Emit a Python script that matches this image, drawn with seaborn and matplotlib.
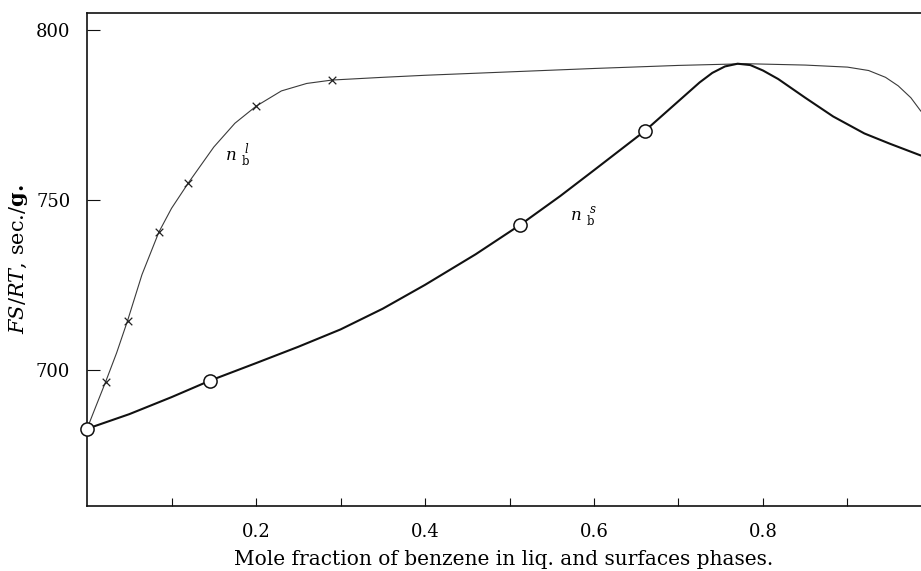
import numpy as np
import pandas as pd
import matplotlib
matplotlib.use("Agg")
import matplotlib.pyplot as plt
import seaborn as sns

# ---- data ----
# n_b^l curve (thin line, crosses)
liq_curve_x = [0.0, 0.01, 0.022, 0.035, 0.048, 0.065, 0.085, 0.10, 0.12, 0.15, 0.175, 0.20, 0.23, 0.26, 0.29,
               0.35, 0.40, 0.50, 0.60, 0.70, 0.78, 0.85, 0.90, 0.925, 0.945, 0.96, 0.975, 0.987]
liq_curve_y = [682.7, 689.0, 696.5, 705.0, 714.5, 728.0, 740.5, 747.5, 755.0, 765.5, 772.5, 777.5, 782.0, 784.2, 785.2,
               786.0, 786.6, 787.6, 788.6, 789.5, 790.0, 789.6, 789.0, 788.0, 786.0, 783.5, 780.0, 776.0]
liq_marker_x = [0.022, 0.048, 0.085, 0.12, 0.20, 0.29]
liq_marker_y = [696.5, 714.5, 740.5, 755.0, 777.5, 785.2]

# n_b^s curve (thick line, open circles)
surf_curve_x = [0.0, 0.05, 0.10, 0.145, 0.20, 0.25, 0.30, 0.35, 0.40, 0.46, 0.513, 0.56, 0.60, 0.66, 0.70, 0.725,
                0.74, 0.755, 0.77, 0.785, 0.80, 0.818, 0.85, 0.883, 0.92, 0.95, 0.987]
surf_curve_y = [682.7, 687.0, 692.0, 696.8, 702.0, 706.8, 711.9, 718.0, 725.0, 734.0, 742.7, 751.1, 758.7, 770.2,
                779.0, 784.5, 787.3, 789.2, 790.0, 789.6, 788.0, 785.5, 780.0, 774.5, 769.5, 766.5, 763.0]
surf_marker_x = [0.0, 0.145, 0.513, 0.66]
surf_marker_y = [682.7, 696.8, 742.7, 770.2]

y_ticks = [700, 750, 800]
x_major = [0.2, 0.4, 0.6, 0.8]
x_minor = [0.1, 0.3, 0.5, 0.7, 0.9]

sns.set_theme(style="ticks")
plt.rcParams["font.family"] = ["DejaVu Serif", "Liberation Serif"]
plt.rcParams["mathtext.fontset"] = "dejavuserif"
plt.rcParams["text.color"] = "black"
plt.rcParams["axes.labelcolor"] = "black"

fig = plt.figure(figsize=(9.21, 5.71), dpi=100)
ax = fig.add_axes([0.0945, 0.1138, 1.0 - 0.0945, 0.9778 - 0.1138])

liq_df = pd.DataFrame({"x": liq_curve_x, "y": liq_curve_y})
surf_df = pd.DataFrame({"x": surf_curve_x, "y": surf_curve_y})

sns.lineplot(data=liq_df, x="x", y="y", sort=False, estimator=None, color="#3a3a3a", lw=0.8, ax=ax)
sns.lineplot(data=surf_df, x="x", y="y", sort=False, estimator=None, color="#111111", lw=1.5, ax=ax)
sns.scatterplot(x=liq_marker_x, y=liq_marker_y, marker="x", s=30, color="#222222", linewidth=0.9, ax=ax, zorder=4)
sns.scatterplot(x=surf_marker_x, y=surf_marker_y, marker="o", s=90, facecolor="white", edgecolor="#111111",
                linewidth=1.1, ax=ax, zorder=5, clip_on=False)

ax.set_xlim(0, 0.987)
ax.set_ylim(660, 805)
ax.set_yticks(y_ticks)
ax.set_xticks(x_major)
ax.set_xticks(x_minor, minor=True)
ax.set_xticklabels([f"{v:.1f}" for v in x_major])
ax.tick_params(axis="both", which="both", direction="in", length=6, width=0.8, colors="#111111",
               labelcolor="black", labelsize=13)
ax.tick_params(axis="y", length=9, pad=12)
ax.tick_params(axis="x", pad=12)

for s in ["left", "bottom", "top"]:
    ax.spines[s].set_linewidth(1.2)
    ax.spines[s].set_color("#111111")
ax.spines["right"].set_visible(False)

ax.set_xlabel("Mole fraction of benzene in liq. and surfaces phases.", fontsize=14.5, labelpad=7)
ax.set_ylabel(r"$FS/RT$, sec./$\mathbf{g.}$", fontsize=15, labelpad=4)

ax.text(0.163, 763, r"$n\ _{\rm b}^{\ l}$", fontsize=12, ha="left", va="center")
ax.text(0.572, 745, r"$n\ _{\rm b}^{\ s}$", fontsize=12, ha="left", va="center")

fig.savefig("out.png", dpi=100)
